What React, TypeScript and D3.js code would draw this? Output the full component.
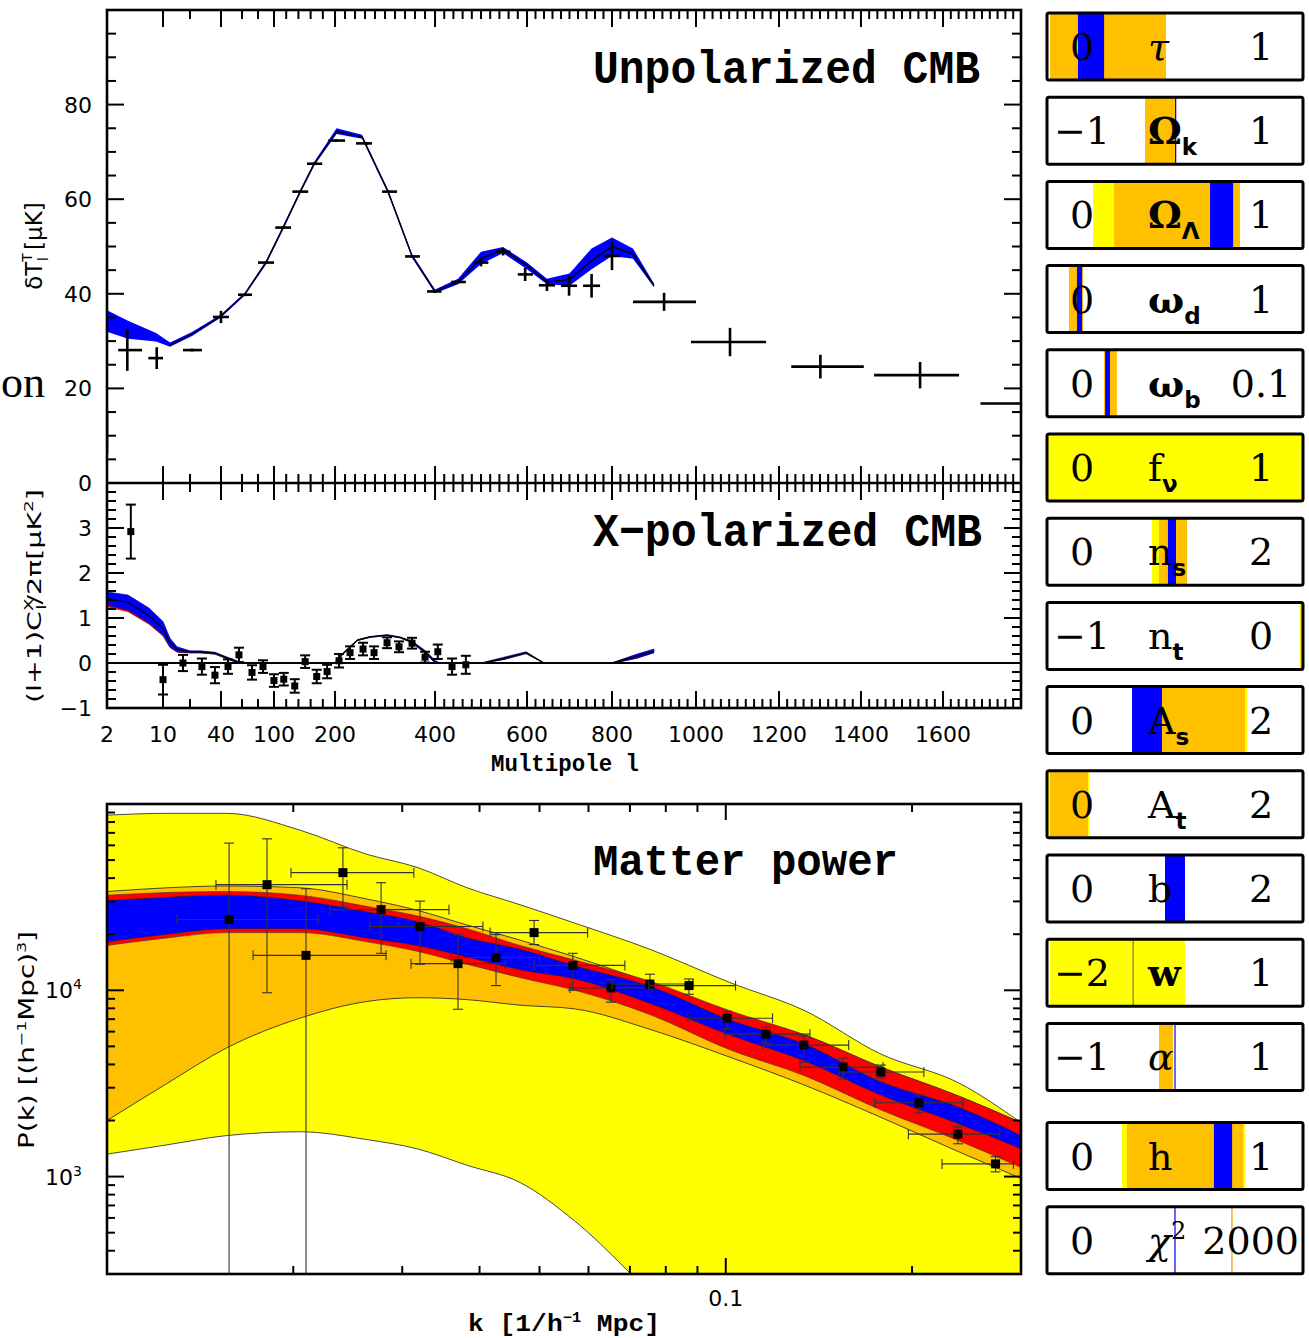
import * as d3 from "d3";

const FONT_MONO = "'Liberation Mono', 'DejaVu Sans Mono', monospace";
const FONT_SANS = "'DejaVu Sans', sans-serif";
const FONT_SERIF = "'DejaVu Serif', serif";

const YELLOW = "#ffff00";
const ORANGE = "#ffc000";
const RED = "#ff0000";
const BLUE = "#0000ff";

// panel frames
const X0 = 107;
const X1 = 1021;
const T_TOP = 10;
const T_BOT = 483;
const X_BOT = 708;
const P_TOP = 804;
const P_BOT = 1274;

// ---------- multipole axis (stretched, neither linear nor log) ----------
const lAxisBreaks = [2, 10, 20, 40, 60, 80, 100, 200, 400, 600, 800, 1000, 1200, 1400, 1600, 1800];
const lAxisFrac = [0, 0.0613, 0.0908, 0.1247, 0.1477, 0.1652, 0.1827, 0.2495, 0.3589, 0.4595, 0.5525, 0.6444, 0.7352, 0.8249, 0.9147, 1];
const lTickValues = [2, 10, 40, 100, 200, 400, 600, 800, 1000, 1200, 1400, 1600];
const lTickLabels = ["2", "10", "40", "100", "200", "400", "600", "800", "1000", "1200", "1400", "1600"];
const lMajorTicks = [10, 40, 100, 200, 400, 600, 800, 1000, 1200, 1400, 1600];
const lMinorTicks = [20, 60, 80, ...d3.range(120, 200, 20), ...d3.range(220, 1800, 20).filter((v) => v % 200 !== 0)];

// ---------- unpolarized CMB ----------
const tempModelL = [2, 5, 9, 12.6, 21.3, 40, 63.75, 90, 115, 143, 166, 203, 254, 306, 354, 400, 450, 500, 548, 600, 647, 700, 752, 800, 850, 900];
const tempModel = [34.2, 32.2, 30.8, 29.2, 31.5, 35.3, 40, 46.6, 54, 61.6, 67.5, 74.3, 73.2, 61.6, 48, 40.5, 42.5, 47.5, 49.3, 46, 42.5, 43, 47, 50, 48.4, 41.7];
const tempBandHi = [36.5, 34.3, 31.7, 29.7, 31.9, 35.6, 40.3, 47, 54.4, 62, 67.9, 75, 73.6, 62, 48.4, 40.9, 43.2, 48.9, 49.9, 46.6, 43.2, 44.3, 49.6, 51.9, 49.6, 42.2];
const tempBandLo = [32, 30.5, 29.9, 28.8, 31.1, 35, 39.7, 46.2, 53.6, 61.2, 67.1, 73.8, 72.8, 61.2, 47.6, 40.1, 42, 46.3, 48.6, 45.2, 42, 41.7, 45.2, 48, 47.4, 41.4];

const tempL = [2, 4.9, 9.1, 21.3, 40, 63.75, 90, 115, 143, 166, 203, 264, 306, 354, 398, 450, 500, 548, 596, 647, 699, 752, 800, 924, 1082, 1301, 1544, 1900];
const tempLMin = [2, 3.6, 7.9, 17.4, 34.8, 56.2, 80, 102, 130, 154, 189, 242, 294, 340, 384, 435, 484, 532, 580, 628, 680, 732, 781, 850, 988, 1230, 1432, 1696];
const tempLMax = [2, 7, 10, 27.7, 47.6, 72.5, 100, 128, 156, 179, 220, 274, 324, 370, 414, 467, 516, 564, 614, 666, 718, 772, 819, 1000, 1169, 1407, 1641, 2100];
const tempValue = [10.5, 28.1, 26.4, 28.1, 35.1, 39.8, 46.6, 54, 61.6, 67.5, 72.4, 71.8, 61.6, 47.9, 40.5, 42.5, 46.6, 48.9, 44.1, 41.8, 41.7, 41.7, 48, 38.3, 29.8, 24.6, 22.8, 16.8];
const tempErr = [4.3, 4.4, 2.3, 0.3, 1.3, 0.3, 0.3, 0.3, 0.3, 0.3, 0.3, 0.3, 0.3, 0.3, 0.3, 0.3, 0.8, 0.8, 1.4, 1.2, 2.1, 2.5, 3, 1.9, 3, 2.5, 2.8, 2.5];

// ---------- X-polarized CMB ----------
const polModelL = [2, 5, 8, 10, 12.6, 15.2, 20, 26.5, 36.1, 45, 55.2, 60, 100, 150, 200, 215, 245, 270, 304, 330, 354, 380, 400, 410, 480, 504, 550, 598, 640, 700, 800, 820, 860, 900];
const polModel = [1.43, 1.35, 1.05, 0.77, 0.45, 0.3, 0.25, 0.25, 0.22, 0.12, 0.03, 0, 0, 0, 0, 0.2, 0.51, 0.58, 0.62, 0.57, 0.47, 0.25, 0.03, 0, 0, 0, 0.1, 0.23, 0, 0, 0, 0.05, 0.15, 0.27];
const polBandHi = [1.58, 1.51, 1.22, 0.92, 0.55, 0.36, 0.27, 0.27, 0.24, 0.14, 0.05, 0, 0, 0, 0, 0.21, 0.52, 0.59, 0.63, 0.58, 0.49, 0.28, 0.06, 0, 0, 0.01, 0.13, 0.25, 0, 0, 0, 0.07, 0.2, 0.31];
const polBandLo = [1.29, 1.18, 0.89, 0.62, 0.36, 0.25, 0.23, 0.23, 0.2, 0.1, 0.01, 0, 0, 0, 0, 0.19, 0.5, 0.57, 0.61, 0.56, 0.45, 0.22, 0, 0, 0, 0, 0.08, 0.21, 0, 0, 0, 0.03, 0.11, 0.23];
const polRedLo = [1.25, 1.14, 0.86, 0.6, 0.34, 0.24, 0.22, 0.22, 0.2, 0.1, 0.01, 0, 0, 0, 0, 0.19, 0.5, 0.57, 0.61, 0.56, 0.45, 0.22, 0, 0, 0, 0, 0.08, 0.21, 0, 0, 0, 0.03, 0.11, 0.23];

const polL = [5.4, 10, 17.4, 27.7, 36.1, 46.7, 57.1, 72.5, 86.25, 100, 116, 134, 151, 170, 187, 208, 230, 256, 278, 304, 328, 354, 380, 406, 437, 467];
const polValue = [2.92, -0.37, 0.0, -0.08, -0.27, -0.08, 0.18, -0.21, -0.08, -0.39, -0.36, -0.51, 0.03, -0.3, -0.19, 0.05, 0.23, 0.31, 0.23, 0.45, 0.36, 0.44, 0.13, 0.25, -0.08, -0.04];
const polErr = [0.6, 0.33, 0.18, 0.18, 0.18, 0.16, 0.16, 0.16, 0.14, 0.14, 0.14, 0.15, 0.14, 0.15, 0.15, 0.15, 0.14, 0.14, 0.14, 0.12, 0.12, 0.12, 0.12, 0.16, 0.18, 0.2];

// ---------- matter power ----------
const kGrid = [0.01, 0.0125, 0.0156, 0.0205, 0.0263, 0.0317, 0.0382, 0.0465, 0.0571, 0.0754, 0.1016, 0.1343, 0.1775, 0.239, 0.3];
const yellowHi = [87100, 89100, 89100, 72400, 53700, 45700, 35500, 28800, 22900, 16600, 11000, 7760, 4570, 3160, 1950];
const yellowLo = [1320, 1480, 1660, 1740, 1580, 1410, 1150, 930, 575, 240, 100, 60, 40, 30, 20];
const orangeHi = [33900, 35500, 36300, 35500, 30900, 26900, 22400, 18600, 15100, 11000, 7590, 5750, 3890, 2690, 1950];
const orangeLo = [2000, 3160, 4900, 7080, 8710, 9120, 8910, 8320, 7940, 6170, 4370, 3090, 2090, 1350, 977];
const redHi = [32400, 33500, 33900, 32400, 28200, 25100, 21400, 17400, 14500, 11200, 7760, 5750, 3890, 2690, 1950];
const redLo = [17400, 19100, 20400, 20400, 18200, 16200, 13800, 11700, 10000, 7410, 4790, 3470, 2290, 1550, 1120];
const blueHi = [30200, 31600, 32400, 30200, 26300, 23400, 19100, 16600, 13500, 10500, 6920, 5130, 3240, 2340, 1660];
const blueLo = [18200, 20000, 21400, 21400, 19100, 17400, 15100, 12900, 11500, 8510, 5750, 4170, 2750, 1910, 1410];

const pkK = [0.01575, 0.01814, 0.02097, 0.02406, 0.02773, 0.03205, 0.03692, 0.04253, 0.049, 0.0566, 0.0652, 0.0754, 0.0872, 0.1005, 0.1161, 0.1337, 0.1547, 0.1781, 0.2052, 0.2372, 0.2729];
const pkKMin = [0.01297, 0.015, 0.01722, 0.01983, 0.02293, 0.0266, 0.031, 0.036, 0.0416, 0.049, 0.056, 0.0655, 0.0751, 0.0869, 0.0997, 0.1148, 0.1318, 0.1524, 0.174, 0.1973, 0.2236];
const pkKMax = [0.02193, 0.02443, 0.02825, 0.03133, 0.0357, 0.0405, 0.044, 0.05, 0.0598, 0.0687, 0.076, 0.0885, 0.1037, 0.119, 0.1368, 0.158, 0.1795, 0.209, 0.2416, 0.2773, 0.2917];
const pkP = [24000, 36900, 15400, 42800, 27100, 22000, 13900, 15000, 20400, 13600, 10300, 10800, 10600, 7080, 5820, 5080, 3870, 3640, 2490, 1690, 1170];
const pkPMin = [100, 9700, 100, 28100, 15800, 13800, 7910, 10600, 17600, 10000, 8630, 10300, 9520, 6220, 5210, 4120, 3340, 3380, 2200, 1500, 1060];
const pkPMax = [61700, 65000, 35100, 58200, 37800, 30100, 19900, 19900, 23700, 15800, 11400, 12200, 11500, 7720, 6340, 5680, 4320, 3970, 2740, 1850, 1280];
const kMinorTicks = [0.02, 0.03, 0.04, 0.05, 0.06, 0.07, 0.08, 0.09, 0.2];
const pMajorTicks = [1000, 10000];
const pMinorTicks = [400, 500, 600, 700, 800, 900, 2000, 3000, 4000, 5000, 6000, 7000, 8000, 9000, 20000, 30000, 40000, 50000, 60000, 70000, 80000, 90000];

// ---------- parameter boxes ----------
const paramSymbol = ["τ", "Ω", "Ω", "ω", "ω", "f", "n", "n", "A", "A", "b", "w", "α", "h", "χ"];
const paramSub = ["", "k", "Λ", "d", "b", "ν", "s", "t", "s", "t", "", "", "", "", ""];
const paramSup = ["", "", "", "", "", "", "", "", "", "", "", "", "", "", "2"];
const paramMinLabel = ["0", "−1", "0", "0", "0", "0", "0", "−1", "0", "0", "0", "−2", "−1", "0", "0"];
const paramMaxLabel = ["1", "1", "1", "1", "0.1", "1", "2", "0", "2", "2", "2", "1", "1", "1", "2000"];
const paramMin = [0, -1, 0, 0, 0, 0, 0, -1, 0, 0, 0, -2, -1, 0, 0];
const paramMax = [1, 1, 1, 1, 0.1, 1, 2, 0, 2, 2, 2, 1, 1, 1, 2000];
type Span = [number, number] | null;
const paramYellow: Span[] = [null, null, [0.18, 0.754], null, null, [0, 1], [0.82, 1.094], [-0.012, 0], [0.664, 1.5625], [0.008, 0.33], null, [-1.965, -0.383], null, [0.293, 0.773], null];
const paramOrange: Span[] = [[0.012, 0.465], [-0.234, 0.008], [0.262, 0.754], [0.086, 0.141], [0.0223, 0.0273], null, [0.875, 1.094], [-0.009, 0], [0.664, 1.547], [0.023, 0.32], null, null, [-0.125, -0.016], [0.3125, 0.766], null];
const paramBlue: Span[] = [[0.121, 0.223], [0.0, 0.01], [0.637, 0.727], [0.117, 0.137], [0.0227, 0.0246], null, [0.945, 1.008], null, [0.664, 0.898], null, [0.922, 1.078], null, null, [0.652, 0.723], null];
const paramBlueLine = [null, null, null, null, null, null, null, null, null, null, null, null, 0.0, null, 1000];
const paramOrangeLine = [null, null, null, null, null, null, null, null, null, null, null, null, null, null, 1445];
const paramGrayLine = [null, null, null, null, null, null, null, null, null, null, null, -0.99, null, null, null];

const BOX_X0 = 1047;
const BOX_X1 = 1303;
const BOX_H = 67;

export default function App() {
  const xL = d3.scaleLinear().domain(lAxisBreaks).range(lAxisFrac.map((f) => X0 + f * (X1 - X0)));
  const yT = d3.scaleLinear().domain([0, 100]).range([T_BOT, T_TOP]);
  const yX = d3.scaleLinear().domain([-1, 4]).range([X_BOT, T_BOT]);
  const xK = d3.scaleLog().domain([0.01, 0.3]).range([X0, X1]);
  const yP = d3.scaleLog().domain([300, 1e5]).range([P_BOT, P_TOP]);

  const band = (
    xs: number[], lo: number[], hi: number[],
    sx: (v: number) => number, sy: (v: number) => number,
    curve: d3.CurveFactory = d3.curveLinear,
  ) =>
    d3.area<number>()
      .x((i) => sx(xs[i]))
      .y0((i) => sy(lo[i]))
      .y1((i) => sy(hi[i]))
      .curve(curve)(d3.range(xs.length)) ?? "";

  const line = (xs: number[], ys: number[], sx: (v: number) => number, sy: (v: number) => number) =>
    d3.line<number>().x((i) => sx(xs[i])).y((i) => sy(ys[i]))(d3.range(xs.length)) ?? "";

  // tick helpers
  const vTicks = (vals: number[], sx: (v: number) => number, y: number, len: number, key: string) =>
    vals.map((v, i) => <line key={key + i} x1={sx(v)} x2={sx(v)} y1={y} y2={y + len} />);
  const hTicks = (vals: number[], sy: (v: number) => number, x: number, len: number, key: string) =>
    vals.map((v, i) => <line key={key + i} x1={x} x2={x + len} y1={sy(v)} y2={sy(v)} />);

  const tMajor = d3.range(0, 101, 20);
  const tMinor = d3.range(0, 100, 5).filter((v) => v % 20 !== 0);
  const xMajor = d3.range(-1, 5, 1);
  const xMinor = d3.range(-1, 4, 0.2).map((v) => Math.round(v * 10) / 10).filter((v) => Math.abs(v - Math.round(v)) > 0.01);

  const mono = d3.curveMonotoneX;

  return (
    <svg width={1309} height={1338} style={{ position: "absolute", left: 0, top: 0, background: "#fff" }}>
      <defs>
        <clipPath id="clipT"><rect x={X0} y={T_TOP} width={X1 - X0} height={T_BOT - T_TOP} /></clipPath>
        <clipPath id="clipX"><rect x={X0} y={T_BOT} width={X1 - X0} height={X_BOT - T_BOT} /></clipPath>
        <clipPath id="clipP"><rect x={X0} y={P_TOP} width={X1 - X0} height={P_BOT - P_TOP} /></clipPath>
      </defs>

      {/* stray text from the neighbouring page */}
      <text x={1} y={397} fontFamily="'Liberation Serif', serif" fontSize={44}>on</text>

      {/* ===== unpolarized CMB ===== */}
      <g clipPath="url(#clipT)">
        <path d={band(tempModelL, tempBandLo, tempBandHi, xL, yT)} fill={BLUE} />
        <path d={line(tempModelL.slice(3), tempModel.slice(3), xL, yT)} fill="none" stroke="#000" strokeWidth={1.4} />
        <g stroke="#000" strokeWidth={2.6}>
          {tempL.map((l, i) => (
            <g key={i}>
              <line x1={xL(tempLMin[i])} x2={xL(tempLMax[i])} y1={yT(tempValue[i])} y2={yT(tempValue[i])} />
              <line x1={xL(l)} x2={xL(l)} y1={yT(tempValue[i] - tempErr[i])} y2={yT(tempValue[i] + tempErr[i])} />
            </g>
          ))}
        </g>
      </g>
      <text x={980} y={83} textAnchor="end" fontFamily={FONT_MONO} fontWeight="bold" fontSize={47} textLength={387} lengthAdjust="spacingAndGlyphs">Unpolarized CMB</text>

      {/* ===== X-polarized CMB ===== */}
      <g clipPath="url(#clipX)">
        <line x1={X0} x2={X1} y1={yX(0)} y2={yX(0)} stroke="#000" strokeWidth={2} />
        <path d={band(polModelL, polRedLo, polBandLo, xL, yX)} fill={RED} stroke="#7a0000" strokeWidth={0.5} />
        <path d={band(polModelL, polBandLo, polBandHi, xL, yX)} fill={BLUE} stroke="#000066" strokeWidth={0.6} />
        <path d={line(polModelL, polModel, xL, yX)} fill="none" stroke="#000" strokeWidth={1.3} />
        <g stroke="#000" strokeWidth={2}>
          {polL.map((l, i) => {
            const x = xL(l);
            const yHi = yX(polValue[i] + polErr[i]);
            const yLo = yX(polValue[i] - polErr[i]);
            return (
              <g key={i}>
                <line x1={x} x2={x} y1={yHi} y2={yLo} />
                <line x1={x - 5} x2={x + 5} y1={yHi} y2={yHi} />
                <line x1={x - 5} x2={x + 5} y1={yLo} y2={yLo} />
                <rect x={x - 3.5} y={yX(polValue[i]) - 3.5} width={7} height={7} fill="#000" stroke="none" />
              </g>
            );
          })}
        </g>
      </g>
      <text x={982} y={546} textAnchor="end" fontFamily={FONT_MONO} fontWeight="bold" fontSize={47} textLength={389} lengthAdjust="spacingAndGlyphs">X−polarized CMB</text>

      {/* frames and ticks of the two CMB panels */}
      <g stroke="#000" strokeWidth={2} fill="none">
        {vTicks(lMajorTicks, xL, T_TOP, 17, "tmt")}
        {vTicks(lMinorTicks, xL, T_TOP, 9, "tnt")}
        {vTicks(lMajorTicks, xL, T_BOT, -17, "tmb")}
        {vTicks(lMinorTicks, xL, T_BOT, -9, "tnb")}
        {vTicks(lMajorTicks, xL, T_BOT, 17, "xmt")}
        {vTicks(lMinorTicks, xL, T_BOT, 9, "xnt")}
        {vTicks(lMajorTicks, xL, X_BOT, -17, "xmb")}
        {vTicks(lMinorTicks, xL, X_BOT, -9, "xnb")}
        {hTicks(tMajor, yT, X0, 17, "tyl")}
        {hTicks(tMinor, yT, X0, 9, "tyln")}
        {hTicks(tMajor, yT, X1, -17, "tyr")}
        {hTicks(tMinor, yT, X1, -9, "tyrn")}
        {hTicks(xMajor, yX, X0, 17, "xyl")}
        {hTicks(xMinor, yX, X0, 9, "xyln")}
        {hTicks(xMajor, yX, X1, -17, "xyr")}
        {hTicks(xMinor, yX, X1, -9, "xyrn")}
        <rect x={X0} y={T_TOP} width={X1 - X0} height={X_BOT - T_TOP} strokeWidth={2.6} />
        <line x1={X0} x2={X1} y1={T_BOT} y2={T_BOT} strokeWidth={2.4} />
      </g>

      <g fontFamily={FONT_SANS} fontSize={22} textAnchor="end">
        {[0, 20, 40, 60, 80].map((v) => (
          <text key={"ty" + v} x={92} y={yT(v) + 8}>{v}</text>
        ))}
        {[-1, 0, 1, 2, 3].map((v) => (
          <text key={"xy" + v} x={92} y={yX(v) + 8}>{v < 0 ? "−" + Math.abs(v) : v}</text>
        ))}
      </g>
      <g fontFamily={FONT_SANS} fontSize={22} textAnchor="middle">
        {lTickValues.map((v, i) => (
          <text key={"lt" + i} x={xL(v)} y={742}>{lTickLabels[i]}</text>
        ))}
      </g>
      <text x={565} y={771} textAnchor="middle" fontFamily={FONT_MONO} fontWeight="bold" fontSize={23} textLength={148} lengthAdjust="spacingAndGlyphs">Multipole l</text>

      <text transform="translate(42,246) rotate(-90)" textAnchor="middle" fontFamily={FONT_SANS} fontSize={23}>
        δT<tspan fontSize={14} dy={-10}>T</tspan><tspan fontSize={14} dx={-8} dy={16}>l</tspan><tspan dy={-6}> [μK]</tspan>
      </text>
      <text transform="translate(41,596) rotate(-90)" textAnchor="middle" fontFamily={FONT_SANS} fontSize={20} textLength={214} lengthAdjust="spacingAndGlyphs">
        (l+1)C<tspan fontSize={13} dy={-8}>X</tspan><tspan fontSize={13} dx={-8} dy={13}>l</tspan><tspan dy={-5}>/2π[μK</tspan><tspan fontSize={13} dy={-8}>2</tspan><tspan dy={8}>]</tspan>
      </text>

      {/* ===== matter power ===== */}
      <g clipPath="url(#clipP)">
        <path d={band(kGrid, yellowLo, yellowHi, xK, yP, mono)} fill={YELLOW} stroke="#333" strokeWidth={0.9} />
        <path d={band(kGrid, orangeLo, orangeHi, xK, yP, mono)} fill={ORANGE} stroke="#333" strokeWidth={0.9} />
        <path d={band(kGrid, redLo, redHi, xK, yP, mono)} fill={RED} stroke="#333" strokeWidth={0.6} />
        <path d={band(kGrid, blueLo, blueHi, xK, yP, mono)} fill={BLUE} stroke="#222" strokeWidth={0.6} />
        <g stroke="#333" strokeWidth={1.1}>
          {pkK.map((k, i) => {
            const x = xK(k);
            const y = yP(pkP[i]);
            const yHi = yP(pkPMax[i]);
            const yLo = yP(pkPMin[i]);
            const xa = xK(pkKMin[i]);
            const xb = xK(pkKMax[i]);
            return (
              <g key={i}>
                <line x1={x} x2={x} y1={yHi} y2={yLo} />
                <line x1={x - 5} x2={x + 5} y1={yHi} y2={yHi} />
                <line x1={x - 5} x2={x + 5} y1={yLo} y2={yLo} />
                <line x1={xa} x2={xb} y1={y} y2={y} />
                <line x1={xa} x2={xa} y1={y - 5} y2={y + 5} />
                <line x1={xb} x2={xb} y1={y - 5} y2={y + 5} />
                <rect x={x - 4.5} y={y - 4.5} width={9} height={9} fill="#000" stroke="none" />
              </g>
            );
          })}
        </g>
      </g>
      <text x={898} y={875} textAnchor="end" fontFamily={FONT_MONO} fontWeight="bold" fontSize={45} textLength={305} lengthAdjust="spacingAndGlyphs">Matter power</text>

      <g stroke="#000" strokeWidth={2} fill="none">
        {vTicks(kMinorTicks, xK, P_TOP, 8, "kt")}
        {vTicks([0.1], xK, P_TOP, 16, "kT")}
        {vTicks(kMinorTicks, xK, P_BOT, -8, "kb")}
        {vTicks([0.1], xK, P_BOT, -16, "kB")}
        {hTicks(pMajorTicks, yP, X0, 17, "pl")}
        {hTicks(pMinorTicks, yP, X0, 8, "pln")}
        {hTicks(pMajorTicks, yP, X1, -17, "pr")}
        {hTicks(pMinorTicks, yP, X1, -8, "prn")}
        <rect x={X0} y={P_TOP} width={X1 - X0} height={P_BOT - P_TOP} strokeWidth={2.6} />
      </g>
      <g fontFamily={FONT_SANS} fontSize={22}>
        {pMajorTicks.map((v) => (
          <text key={"pt" + v} x={82} y={yP(v) + 8} textAnchor="end">
            10<tspan fontSize={14} dy={-9}>{Math.round(Math.log10(v))}</tspan>
          </text>
        ))}
        <text x={xK(0.1)} y={1306} textAnchor="middle">0.1</text>
      </g>
      <text x={564} y={1331} textAnchor="middle" fontFamily={FONT_MONO} fontWeight="bold" fontSize={24} textLength={192} lengthAdjust="spacingAndGlyphs">
        k [1/h<tspan fontSize={14} dy={-9}>−1</tspan><tspan dy={9}> Mpc]</tspan>
      </text>
      <text transform="translate(34,1040) rotate(-90)" textAnchor="middle" fontFamily={FONT_SANS} fontSize={21} textLength={218} lengthAdjust="spacingAndGlyphs">
        P(k) [(h<tspan fontSize={13} dy={-8}>−1</tspan><tspan dy={8}>Mpc)</tspan><tspan fontSize={13} dy={-8}>3</tspan><tspan dy={8}>]</tspan>
      </text>

      {/* ===== parameter boxes ===== */}
      {paramSymbol.map((sym, i) => {
        const top = 13 + i * 84.2 + (i >= 13 ? 15 : 0);
        const sx = d3.scaleLinear().domain([paramMin[i], paramMax[i]]).range([BOX_X0, BOX_X1]);
        const span = (r: Span, color: string) =>
          r ? <rect x={sx(r[0])} y={top} width={Math.max(1, sx(r[1]) - sx(r[0]))} height={BOX_H} fill={color} /> : null;
        const vline = (v: number | null, color: string) =>
          v === null ? null : <line x1={sx(v)} x2={sx(v)} y1={top} y2={top + BOX_H} stroke={color} strokeWidth={1.2} />;
        const longRight = paramMaxLabel[i].length > 3;
        const italic = sym === "τ" || sym === "α" || sym === "χ";
        const bold = sym === "Ω" || sym === "ω" || sym === "w";
        return (
          <g key={"box" + i}>
            <rect x={BOX_X0} y={top} width={BOX_X1 - BOX_X0} height={BOX_H} fill="#fff" />
            {span(paramYellow[i], YELLOW)}
            {span(paramOrange[i], ORANGE)}
            {span(paramBlue[i], BLUE)}
            {vline(paramBlueLine[i], BLUE)}
            {vline(paramOrangeLine[i], "#e0a000")}
            {vline(paramGrayLine[i], "#777")}
            <g fontFamily={FONT_SERIF} fontSize={38}>
              <text x={1082} y={top + 47} textAnchor="middle">{paramMinLabel[i]}</text>
              <text x={longRight ? 1299 : 1261} y={top + 47} textAnchor={longRight ? "end" : "middle"}>{paramMaxLabel[i]}</text>
              <text x={1148} y={top + 47} fontStyle={italic ? "italic" : "normal"} fontWeight={bold ? "bold" : "normal"}>
                {sym}
                {paramSub[i] && <tspan fontFamily={FONT_SANS} fontWeight="bold" fontStyle="normal" fontSize={23} dy={11}>{paramSub[i]}</tspan>}
                {paramSup[i] && <tspan fontSize={24} fontStyle="normal" dy={-15}>{paramSup[i]}</tspan>}
              </text>
            </g>
            <rect x={BOX_X0} y={top} width={BOX_X1 - BOX_X0} height={BOX_H} fill="none" stroke="#000" strokeWidth={3} rx={2} />
          </g>
        );
      })}
    </svg>
  );
}
